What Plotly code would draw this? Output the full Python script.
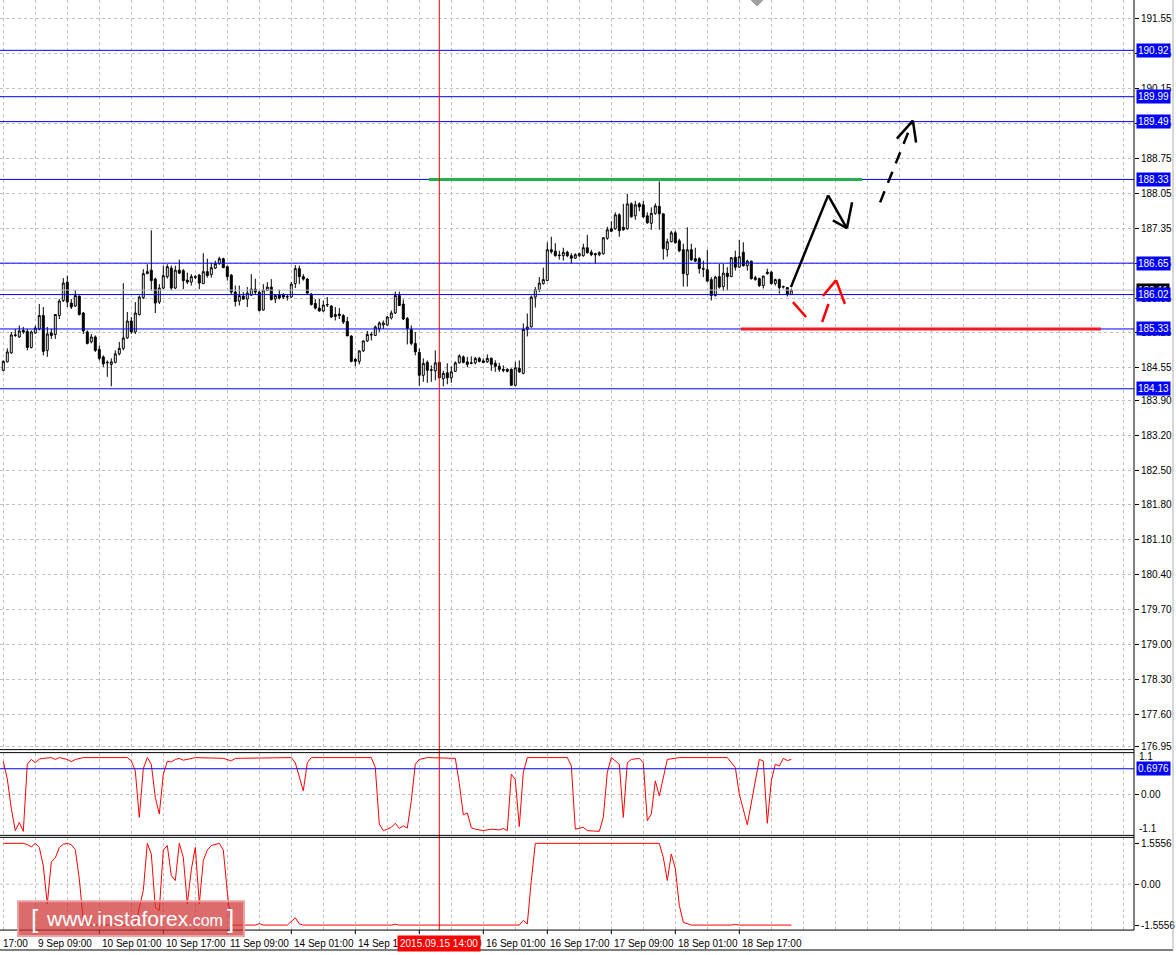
import plotly.graph_objects as go

W, H = 1176, 955

# ---------------- data (H1 candles, bar index 0 = 9 Sep 01:00) ----------------
opens = [184.50, 184.67, 184.85, 185.20, 185.17, 185.30, 185.28, 184.96, 185.25, 185.33,
         185.60, 184.90, 185.25, 185.22, 185.60, 185.90, 186.27, 185.85, 185.79, 185.99,
         185.65, 185.27, 185.07, 185.17, 184.92, 184.77, 184.65, 184.62, 184.66, 184.83,
         184.94, 185.15, 185.49, 185.27, 185.62, 185.96, 186.44, 186.51, 186.33, 185.87,
         186.15, 186.38, 186.55, 186.15, 186.51, 186.50, 186.31, 186.27, 186.38, 186.41,
         186.24, 186.48, 186.42, 186.55, 186.64, 186.74, 186.58, 186.41, 186.07, 185.89,
         185.99, 185.93, 186.01, 186.13, 186.07, 185.71, 186.10, 186.17, 185.93, 186.01,
         186.01, 185.97, 185.97, 186.24, 186.54, 186.38, 186.33, 186.03, 185.84, 185.75,
         185.69, 185.81, 185.79, 185.58, 185.63, 185.60, 185.48, 185.19, 184.72, 184.68,
         184.89, 185.09, 185.22, 185.20, 185.33, 185.41, 185.41, 185.55, 185.65, 186.00,
         185.83, 185.54, 185.32, 185.04, 184.86, 184.40, 184.66, 184.50, 184.49, 184.66,
         184.33, 184.45, 184.35, 184.48, 184.65, 184.77, 184.67, 184.64, 184.65, 184.74,
         184.69, 184.67, 184.74, 184.64, 184.58, 184.52, 184.52, 184.52, 184.20, 184.54,
         184.44, 185.32, 185.37, 185.97, 186.12, 186.24, 186.30, 186.92, 186.89, 186.80,
         186.80, 186.87, 186.80, 186.75, 186.80, 186.80, 186.96, 186.87, 186.84, 186.82,
         186.84, 187.15, 187.34, 187.34, 187.62, 187.37, 187.34, 187.84, 187.60, 187.84,
         187.82, 187.60, 187.45, 187.65, 187.79, 187.64, 186.92, 187.08, 187.26, 187.10,
         186.92, 186.42, 186.92, 186.74, 186.74, 186.54, 186.52, 186.32, 186.00, 186.38,
         186.18, 186.45, 186.38, 186.77, 186.57, 186.87, 186.60, 186.69, 186.32, 186.34,
         186.20, 186.47, 186.47, 186.24, 186.32, 186.17, 186.16, 186.02]
highs = [184.70, 184.94, 185.27, 185.33, 185.40, 185.37, 185.33, 185.30, 185.40, 185.83,
         185.77, 185.37, 185.33, 185.63, 185.93, 186.35, 186.40, 185.93, 186.11, 186.00,
         185.67, 185.30, 185.23, 185.20, 185.00, 184.80, 184.70, 184.74, 184.90, 185.07,
         186.25, 185.67, 185.57, 185.87, 186.00, 186.53, 186.63, 187.31, 186.36, 186.23,
         186.60, 186.63, 186.60, 186.60, 186.72, 186.53, 186.46, 186.43, 186.41, 186.43,
         186.85, 186.74, 186.66, 186.70, 186.78, 186.76, 186.60, 186.43, 186.20, 186.20,
         186.07, 186.17, 186.43, 186.34, 186.10, 186.23, 186.27, 186.33, 186.03, 186.12,
         186.05, 186.03, 186.27, 186.61, 186.60, 186.43, 186.35, 186.05, 185.93, 185.93,
         185.90, 185.97, 185.81, 185.77, 185.75, 185.63, 185.57, 185.20, 184.75, 184.90,
         185.10, 185.29, 185.27, 185.40, 185.48, 185.50, 185.59, 185.70, 186.08, 186.08,
         185.92, 185.57, 185.40, 185.27, 184.94, 184.74, 184.70, 184.60, 184.90, 184.67,
         184.49, 184.64, 184.58, 184.68, 184.82, 184.80, 184.77, 184.78, 184.77, 184.77,
         184.74, 184.82, 184.76, 184.70, 184.65, 184.60, 184.54, 184.54, 184.67, 184.70,
         185.44, 185.64, 186.00, 186.17, 186.37, 186.56, 187.07, 187.18, 187.05, 186.90,
         186.96, 186.90, 186.85, 186.85, 186.86, 187.04, 187.22, 186.92, 186.86, 186.89,
         187.17, 187.38, 187.49, 187.67, 187.65, 187.84, 188.04, 187.87, 187.90, 187.87,
         187.90, 187.67, 187.77, 187.85, 188.29, 187.65, 187.14, 187.30, 187.30, 187.14,
         187.04, 187.37, 187.04, 186.96, 186.77, 186.70, 186.92, 186.37, 186.40, 186.64,
         186.64, 186.57, 186.77, 186.90, 187.12, 187.07, 186.72, 186.70, 186.40, 186.36,
         186.40, 186.54, 186.49, 186.34, 186.34, 186.20, 186.17, 186.14]
lows = [184.48, 184.66, 184.83, 185.17, 185.15, 185.23, 184.90, 184.94, 185.23, 185.30,
        184.80, 184.77, 185.13, 185.13, 185.53, 185.87, 185.77, 185.73, 185.77, 185.60,
        185.23, 185.02, 185.04, 184.87, 184.70, 184.57, 184.37, 184.18, 184.64, 184.80,
        184.90, 185.13, 185.23, 185.23, 185.60, 185.93, 186.43, 186.10, 185.65, 185.83,
        186.13, 186.34, 186.11, 186.13, 186.43, 186.13, 186.23, 186.20, 186.33, 186.13,
        186.23, 186.36, 186.36, 186.53, 186.62, 186.55, 186.30, 186.03, 185.78, 185.80,
        185.91, 185.77, 185.99, 186.03, 185.68, 185.70, 186.09, 185.90, 185.85, 185.92,
        185.93, 185.90, 185.95, 186.15, 186.23, 186.30, 186.03, 185.80, 185.72, 185.68,
        185.67, 185.77, 185.55, 185.50, 185.53, 185.43, 185.19, 184.66, 184.58, 184.62,
        184.87, 185.07, 185.10, 185.19, 185.27, 185.33, 185.40, 185.52, 185.63, 185.79,
        185.51, 185.02, 185.00, 184.80, 184.19, 184.27, 184.25, 184.27, 184.30, 184.34,
        184.18, 184.22, 184.25, 184.47, 184.64, 184.64, 184.56, 184.62, 184.62, 184.66,
        184.64, 184.65, 184.49, 184.47, 184.47, 184.46, 184.46, 184.20, 184.18, 184.45,
        184.42, 185.18, 185.36, 185.76, 186.07, 186.22, 186.29, 186.84, 186.78, 186.72,
        186.70, 186.77, 186.65, 186.74, 186.77, 186.78, 186.84, 186.79, 186.65, 186.79,
        186.82, 187.12, 187.27, 187.32, 187.18, 187.30, 187.32, 187.56, 187.52, 187.69,
        187.56, 187.44, 187.32, 187.62, 187.32, 186.72, 186.78, 187.07, 187.04, 186.87,
        186.18, 186.18, 186.69, 186.67, 186.44, 186.37, 186.27, 185.90, 185.98, 186.14,
        186.09, 186.10, 186.37, 186.50, 186.56, 186.58, 186.50, 186.32, 186.30, 186.17,
        186.14, 186.42, 186.22, 186.20, 186.04, 186.14, 185.98, 186.02]
closes = [184.68, 184.87, 185.21, 185.21, 185.29, 185.27, 184.96, 185.27, 185.35, 185.60,
          184.88, 185.23, 185.20, 185.62, 185.89, 186.25, 185.87, 185.77, 186.00, 185.62,
          185.29, 185.04, 185.17, 184.90, 184.74, 184.63, 184.66, 184.67, 184.83, 184.94,
          185.15, 185.49, 185.27, 185.65, 185.97, 186.44, 186.48, 186.30, 185.85, 186.15,
          186.40, 186.58, 186.15, 186.51, 186.45, 186.30, 186.27, 186.38, 186.37, 186.25,
          186.48, 186.40, 186.56, 186.64, 186.74, 186.56, 186.38, 186.07, 185.88, 186.00,
          185.93, 186.05, 186.13, 186.07, 185.70, 186.11, 186.17, 185.92, 186.00, 185.95,
          185.97, 185.98, 186.23, 186.54, 186.38, 186.33, 186.05, 185.82, 185.75, 185.69,
          185.81, 185.82, 185.57, 185.62, 185.60, 185.47, 185.19, 184.68, 184.68, 184.89,
          185.09, 185.22, 185.21, 185.37, 185.45, 185.45, 185.57, 185.65, 186.00, 185.80,
          185.53, 185.34, 185.04, 184.87, 184.40, 184.64, 184.50, 184.51, 184.65, 184.35,
          184.44, 184.35, 184.47, 184.65, 184.79, 184.66, 184.62, 184.65, 184.74, 184.68,
          184.66, 184.74, 184.62, 184.58, 184.52, 184.50, 184.48, 184.20, 184.55, 184.47,
          185.32, 185.37, 185.97, 186.12, 186.25, 186.32, 186.92, 186.88, 186.80, 186.81,
          186.87, 186.80, 186.75, 186.82, 186.84, 186.96, 186.86, 186.82, 186.82, 186.86,
          187.16, 187.32, 187.29, 187.62, 187.30, 187.32, 187.84, 187.58, 187.82, 187.78,
          187.58, 187.46, 187.65, 187.80, 187.64, 186.94, 187.08, 187.26, 187.06, 186.90,
          186.44, 186.92, 186.72, 186.69, 186.54, 186.53, 186.29, 186.00, 186.37, 186.17,
          186.45, 186.38, 186.76, 186.57, 186.78, 186.60, 186.69, 186.34, 186.36, 186.20,
          186.39, 186.44, 186.24, 186.32, 186.16, 186.18, 186.02, 186.11]
bars = list(range(len(opens)))
bid = 186.11

price_ticks = [191.55, 190.85, 190.15, 189.45, 188.75, 188.05, 187.35, 186.65, 185.95,
               185.25, 184.55, 183.90, 183.20, 182.50, 181.80, 181.10, 180.40, 179.70,
               179.00, 178.30, 177.60, 176.95]
levels = [190.92, 189.99, 189.49, 188.33, 186.65, 186.02, 185.33, 184.13]

time_tick_bars = [-8, 8, 24, 40, 56, 72, 88, 104, 120, 136, 152, 168, 184]
time_tick_labels = ["8 Sep 17:00", "9 Sep 09:00", "10 Sep 01:00", "10 Sep 17:00",
                    "11 Sep 09:00", "14 Sep 01:00", "14 Sep 17:00", "15 Sep 09:00",
                    "16 Sep 01:00", "16 Sep 17:00", "17 Sep 09:00", "18 Sep 01:00",
                    "18 Sep 17:00"]
cursor_bar = 109
cursor_label = "2015.09.15 14:00"

ind1_bars = [0, 1, 2, 3, 4, 5, 6, 7, 8, 9, 10, 12, 13, 14, 16, 17, 18, 20, 31, 32, 33, 34,
             35, 36, 37, 38, 39, 40, 41, 42, 43, 44, 45, 48, 55, 57, 58, 72, 73, 74, 75, 76,
             77, 92, 93, 94, 95, 96, 97, 98, 99, 100, 101, 102, 103, 104, 106, 113, 114,
             115, 116, 117, 118, 120, 122, 124, 125, 126, 127, 128, 129, 130, 131, 141,
             142, 143, 145, 146, 149, 150, 151, 152, 154, 155, 156, 157, 159, 160, 161,
             162, 163, 164, 165, 166, 169, 181, 183, 184, 186, 188, 189, 190, 191, 192,
             193, 194, 195, 196, 197]
ind1_vals = [0.90, 0.42, -0.38, -0.98, -0.76, -1.00, 0.82, 0.95, 0.86, 0.96, 0.98, 1.00,
             0.95, 1.00, 0.95, 0.89, 0.95, 1.00, 1.00, 0.91, 0.64, -0.62, 0.70, 1.00, 0.82,
             -0.08, -0.53, 0.55, 0.90, 0.88, 0.95, 0.98, 0.93, 1.00, 0.98, 0.91, 0.98, 1.00,
             0.86, 0.50, 0.10, 0.86, 1.00, 1.00, 0.73, -0.80, -0.98, -0.94, -0.89, -0.78,
             -0.92, -0.85, -0.91, -0.17, 0.82, 0.95, 1.00, 0.98, 0.30, -0.55, -0.50, -0.90,
             -0.94, -0.98, -0.94, -0.96, -0.92, -0.98, 0.55, 0.40, -0.87, 0.60, 1.00, 1.00,
             0.78, -0.94, -0.89, -0.98, -1.00, -0.62, 0.60, 1.00, 0.82, -0.62, 0.86, 0.95,
             0.98, 0.86, -0.71, -0.53, 0.37, -0.04, 0.46, 0.95, 1.00, 1.00, 0.73, 0.01,
             -0.82, 0.37, 0.95, 0.91, -0.78, 0.37, 0.82, 0.77, 0.98, 0.92, 0.95]
ind1_level = 0.6976

ind2_bars = [0, 5, 6, 7, 8, 9, 10, 11, 12, 13, 14, 15, 16, 17, 18, 19, 20, 21, 33, 35, 36,
             37, 38, 39, 40, 41, 42, 43, 44, 45, 46, 47, 48, 49, 50, 51, 52, 54, 55, 56, 57,
             63, 64, 65, 71, 72, 73, 74, 75, 97, 98, 99, 129, 130, 131, 132, 133, 164, 165,
             166, 167, 168, 169, 170, 172, 182, 183, 184, 186, 187, 188, 197]
ind2_vals = [1.5556, 1.5556, 1.51, 1.42, 1.5556, 1.40, 0.70, -0.75, 0.85, 1.00, 1.40,
             1.52, 1.5556, 1.50, 1.32, 0.20, -1.40, -1.5556, -1.5556, -0.24, 1.5556, 1.15,
             -0.88, -1.00, 1.30, 1.47, 0.33, 0.14, 1.5556, 1.02, -0.75, 0.55, 1.40, -0.75,
             0.90, 1.30, 1.47, 1.5556, 1.30, -0.30, -1.5556, -1.5556, -1.50, -1.5556,
             -1.5556, -1.40, -1.28, -1.51, -1.5556, -1.5556, -1.52, -1.5556, -1.5556, -1.38,
             -1.51, 0.14, 1.5556, 1.5556, 1.02, 0.14, 1.15, 0.60, -0.80, -1.45, -1.5556,
             -1.5556, -1.53, -1.5556, -1.5556, -1.53, -1.5556, -1.5556]

# hand-drawn trend marks on the chart (bar index, price)
green_level = (106.4, 214.7, 188.33)
red_level = (184.4, 274.4, 185.33)
solid_arrow = [(196.9, 186.17), (206.2, 188.01), (210.9, 187.35)]
solid_head = [(212.2, 187.87), (210.9, 187.35), (207.4, 187.51)]
dashed_arrow = [(219.2, 187.87), (227.4, 189.51)]
dashed_head = [(223.4, 189.15), (227.4, 189.51), (228.2, 189.07)]
red_marks = [[(197.4, 185.87), (200.7, 185.57)],
             [(204.7, 185.47), (206.3, 185.83)],
             [(204.9, 185.99), (208.2, 186.31), (210.4, 185.83)]]

# ---------------- geometry ----------------
PLOT_R = 1134
X0, X1 = -0.825, 282.675
def px(x):
    return x / W
def py(y):
    return 1 - y / H
def bar_paper(b):
    return (b - X0) / (X1 - X0) * px(PLOT_R)

FONT = "Liberation Sans"
GRID = "#c0c0c0"
fig = go.Figure()

fig.add_trace(go.Candlestick(
    x=bars, open=opens, high=highs, low=lows, close=closes,
    increasing=dict(line=dict(color="black", width=1), fillcolor="white"),
    decreasing=dict(line=dict(color="black", width=1), fillcolor="black"),
    whiskerwidth=0, hoverinfo="skip", showlegend=False, xaxis="x", yaxis="y"))

fig.add_trace(go.Scatter(x=ind1_bars, y=ind1_vals, mode="lines",
                         line=dict(color="#ff0000", width=1), hoverinfo="skip",
                         showlegend=False, xaxis="x2", yaxis="y2"))
fig.add_trace(go.Scatter(x=ind2_bars, y=ind2_vals, mode="lines",
                         line=dict(color="#ff0000", width=1), hoverinfo="skip",
                         showlegend=False, xaxis="x3", yaxis="y3"))

xcommon = dict(range=[X0, X1], domain=[0, px(PLOT_R)], showgrid=True, gridcolor=GRID,
               griddash="3px,3px", gridwidth=1, tick0=0, dtick=8, showticklabels=False,
               ticks="", zeroline=False, showline=False, fixedrange=True)
fig.update_layout(
    width=W, height=H, margin=dict(l=0, r=0, t=0, b=0),
    paper_bgcolor="white", plot_bgcolor="white",
    font=dict(family=FONT, size=10, color="black"),
    hovermode=False,
    xaxis=dict(**xcommon, anchor="y", rangeslider=dict(visible=False)),
    xaxis2=dict(**xcommon, anchor="y2", matches="x"),
    xaxis3=dict(**xcommon, anchor="y3", matches="x"),
    yaxis=dict(domain=[py(752), 1], range=[191.55 - (752 - 19) / 50, 191.55 + 19 / 50],
               side="right", anchor="x", tickmode="array", tickvals=price_ticks,
               ticktext=[f"{v:.2f}" for v in price_ticks], ticks="outside", ticklen=4,
               tickcolor="black", showgrid=True, gridcolor=GRID, griddash="3px,3px",
               zeroline=False, showline=False, tickfont=dict(family=FONT, size=10)),
    yaxis2=dict(domain=[py(838), py(755)], range=[-1.108, 1.135], side="right",
                anchor="x2", tickmode="array", tickvals=[0], ticktext=["0.00"],
                ticks="outside", ticklen=4, tickcolor="black", showgrid=True,
                gridcolor=GRID, griddash="3px,3px", zeroline=False, showline=False),
    yaxis3=dict(domain=[py(933), py(840)], range=[-1.745, 1.783], side="right",
                anchor="x3", tickmode="array", tickvals=[1.5556, 0, -1.5556],
                ticktext=["1.5556", "0.00", "-1.5556"], ticks="outside", ticklen=4,
                tickcolor="black", showgrid=False, zeroline=False, showline=False),
)

shapes = []
shapes.append(dict(type="line", xref="x3 domain", yref="y3", x0=0, x1=1, y0=0, y1=0,
                   line=dict(color=GRID, width=1, dash="3px,3px"), layer="below"))
shapes.append(dict(type="line", xref="x domain", yref="y", x0=0, x1=1, y0=bid, y1=bid,
                   line=dict(color="#c0c0c0", width=1)))
for lv in levels:
    shapes.append(dict(type="line", xref="x domain", yref="y", x0=0, x1=1, y0=lv, y1=lv,
                       line=dict(color="#0000ff", width=1)))
shapes.append(dict(type="line", xref="x2 domain", yref="y2", x0=0, x1=1,
                   y0=ind1_level, y1=ind1_level, line=dict(color="#0000ff", width=1)))
shapes.append(dict(type="line", xref="x", yref="y", x0=green_level[0], x1=green_level[1],
                   y0=green_level[2], y1=green_level[2], line=dict(color="#22b14c", width=3)))
shapes.append(dict(type="line", xref="x", yref="y", x0=red_level[0], x1=red_level[1],
                   y0=red_level[2], y1=red_level[2], line=dict(color="#ed1c24", width=3)))

def polyline(pts, color, width, dash="solid"):
    for (a, b), (c, d) in zip(pts[:-1], pts[1:]):
        shapes.append(dict(type="line", xref="x", yref="y", x0=a, y0=b, x1=c, y1=d,
                           line=dict(color=color, width=width, dash=dash)))

polyline(solid_arrow, "black", 2.5)
polyline(solid_head, "black", 2.5)
polyline(dashed_arrow, "black", 2.5, "12px,9px")
polyline(dashed_head, "black", 2.5)
for seg in red_marks:
    polyline(seg, "#ff0000", 2.5)

shapes.append(dict(type="line", xref="x", yref="paper", x0=cursor_bar, x1=cursor_bar,
                   y0=py(933), y1=1, line=dict(color="#ff0000", width=1)))
for yy in [752, 755, 838, 840, 933]:
    shapes.append(dict(type="line", xref="paper", yref="paper", x0=0, x1=px(PLOT_R),
                       y0=py(yy), y1=py(yy), line=dict(color="black", width=1)))
shapes.append(dict(type="line", xref="paper", yref="paper", x0=px(PLOT_R), x1=px(PLOT_R),
                   y0=py(933), y1=1, line=dict(color="black", width=1)))
shapes.append(dict(type="line", xref="paper", yref="paper", x0=0, x1=px(1173),
                   y0=py(953), y1=py(953), line=dict(color="black", width=1)))
shapes.append(dict(type="line", xref="paper", yref="paper", x0=px(1173), x1=px(1173),
                   y0=py(953), y1=1, line=dict(color="#b0b0b0", width=1)))
for b in time_tick_bars:
    if b >= X0:
        shapes.append(dict(type="line", xref="x3", yref="paper", x0=b, x1=b,
                           y0=py(933), y1=py(937), line=dict(color="black", width=1)))
shapes.append(dict(type="path", xref="paper", yref="paper",
                   path=f"M {px(751)},{py(0)} L {px(763)},{py(0)} L {px(757)},{py(6)} Z",
                   fillcolor="#a0a0a0", line=dict(color="#a0a0a0", width=1)))
shapes.append(dict(type="rect", xref="paper", yref="paper", x0=px(18), x1=px(244),
                   y0=py(939), y1=py(904), fillcolor="rgba(205,45,45,0.70)",
                   line=dict(color="rgba(236,160,160,0.95)", width=2)))

ann = []
ann.append(dict(xref="paper", yref="y", x=px(1136), y=bid, xanchor="left", yanchor="middle",
                text=f"{bid:.2f}", showarrow=False, bgcolor="black",
                font=dict(color="white", size=10, family=FONT), borderpad=1))
for lv in levels:
    ann.append(dict(xref="paper", yref="y", x=px(1136), y=lv, xanchor="left",
                    yanchor="middle", text=f"{lv:.2f}", showarrow=False, bgcolor="#0000ff",
                    font=dict(color="white", size=10, family=FONT), borderpad=1))
ann.append(dict(xref="paper", yref="y2", x=px(1137), y=1.02, xanchor="left",
                yanchor="middle", text="1.1", showarrow=False,
                font=dict(color="black", size=10, family=FONT)))
ann.append(dict(xref="paper", yref="y2", x=px(1136), y=ind1_level, xanchor="left",
                yanchor="middle", text=f"{ind1_level:.4f}", showarrow=False,
                bgcolor="#0000ff", font=dict(color="white", size=10, family=FONT),
                borderpad=1))
ann.append(dict(xref="paper", yref="y2", x=px(1137), y=-0.92, xanchor="left",
                yanchor="middle", text="-1.1", showarrow=False,
                font=dict(color="black", size=10, family=FONT)))
for b, t in zip(time_tick_bars, time_tick_labels):
    ann.append(dict(xref="paper", yref="paper", x=bar_paper(b) + px(1), y=py(946),
                    xanchor="left", yanchor="middle", text=t, showarrow=False,
                    font=dict(color="black", size=10, family=FONT)))
ann.append(dict(xref="x3", yref="paper", x=cursor_bar, y=py(946), xanchor="center",
                yanchor="middle", text=cursor_label, showarrow=False, bgcolor="#ff0000",
                font=dict(color="white", size=10, family=FONT), borderpad=2))
ann.append(dict(xref="paper", yref="paper", x=px(29), y=py(922), xanchor="left",
                yanchor="middle", text="[", showarrow=False,
                font=dict(color="white", size=26, family=FONT)))
ann.append(dict(xref="paper", yref="paper", x=px(134), y=py(921), xanchor="center",
                yanchor="middle",
                text="www.instaforex<span style='font-size:16px'>.com</span>",
                showarrow=False, font=dict(color="white", size=21, family=FONT)))
ann.append(dict(xref="paper", yref="paper", x=px(236), y=py(922), xanchor="right",
                yanchor="middle", text="]", showarrow=False,
                font=dict(color="white", size=26, family=FONT)))

fig.update_layout(shapes=shapes, annotations=ann)
fig.write_html("out.html", config={"displayModeBar": False, "staticPlot": True},
               post_script="document.body.style.margin='0px';document.body.style.overflow='hidden';")
